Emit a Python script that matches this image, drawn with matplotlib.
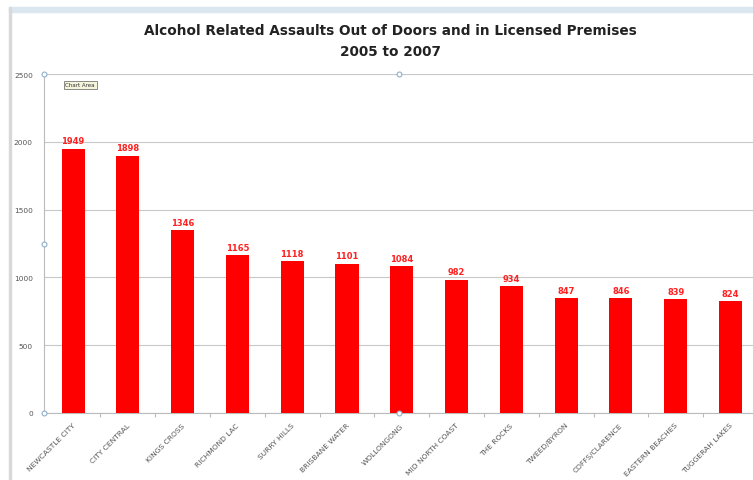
import matplotlib.pyplot as plt
from matplotlib.patches import Rectangle

areas = ['NEWCASTLE CITY', 'CITY CENTRAL', 'KINGS CROSS', 'RICHMOND LAC',
         'SURRY HILLS', 'BRISBANE WATER', 'WOLLONGONG', 'MID NORTH COAST',
         'THE ROCKS', 'TWEED/BYRON', 'COFFS/CLARENCE', 'EASTERN BEACHES',
         'TUGGERAH LAKES']
assaults = [1949, 1898, 1346, 1165, 1118, 1101, 1084, 982, 934, 847, 846, 839, 824]
yticks = [0, 500, 1000, 1500, 2000, 2500]

fig = plt.figure(figsize=(7.53, 4.81), dpi=100)
fig.patch.set_facecolor('white')

# chart frame: light blue top band and grey left edge
fig.patches.append(Rectangle((9 / 753, 1 - 13 / 481), 1, 5 / 481,
                             transform=fig.transFigure, color='#dbe7f0', zorder=0))
fig.patches.append(Rectangle((9 / 753, 0), 1.5 / 753, 1 - 8 / 481,
                             transform=fig.transFigure, color='#d8d8d8', zorder=0))

ax = fig.add_axes([44 / 753, 67 / 481, 1 - 44 / 753, (414 - 75) / 481])
x = range(len(areas))
ax.bar(x, assaults, width=0.42, color='#ff0000', zorder=3)
for i, v in enumerate(assaults):
    ax.text(i, v + 25, str(v), ha='center', va='bottom', color='#ff2020',
            fontsize=6, fontweight='bold')

ax.set_ylim(0, 2500)
ax.set_xlim(-0.53, 12.41)
ax.set_yticks(yticks)
ax.set_yticklabels([str(t) for t in yticks], fontsize=5.3, color='#555555')
ax.yaxis.grid(True, color='#c8c8c8', linewidth=0.8, zorder=0)
ax.tick_params(axis='y', length=0, pad=8)

# category ticks sit between bars
ax.set_xticks([i + 0.5 for i in range(len(areas) - 1)], minor=False)
ax.set_xticklabels([])
ax.tick_params(axis='x', length=3, color='#bbbbbb', direction='out')
for i, name in enumerate(areas):
    ax.text(i - 0.02, -65, name, rotation=45, ha='right', va='top',
            rotation_mode='anchor', fontsize=5.4, color='#555555')

for side in ['top', 'right']:
    ax.spines[side].set_visible(False)
ax.spines['left'].set_color('#bbbbbb')
ax.spines['bottom'].set_color('#bbbbbb')

# selection handles on the plot area
for hx, hy in [(0, 0), (0, 0.5), (0, 1), (0.5, 1), (0.5, 0)]:
    ax.plot(hx, hy, 'o', ms=3.5, mfc='white', mec='#8fb0cc', mew=0.8,
            transform=ax.transAxes, clip_on=False, zorder=5)

ax.text(0.03, 0.975, 'Chart Area', transform=ax.transAxes, fontsize=4,
        va='top', ha='left', color='#333333',
        bbox=dict(boxstyle='square,pad=0.3', fc='#f5f5dc', ec='#777777', lw=0.6))

fig.text(390 / 753, 1 - 31 / 481,
         'Alcohol Related Assaults Out of Doors and in Licensed Premises',
         ha='center', va='center', fontsize=9.8, fontweight='bold', color='#222222')
fig.text(390 / 753, 1 - 52 / 481, '2005 to 2007',
         ha='center', va='center', fontsize=9.8, fontweight='bold', color='#222222')

fig.savefig('out.png', dpi=100)
